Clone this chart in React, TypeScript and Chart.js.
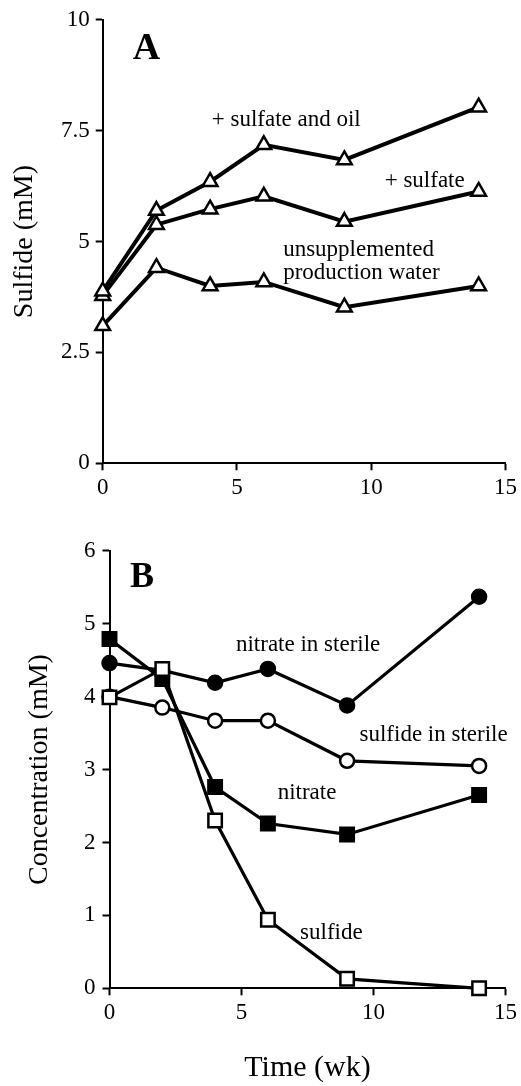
import React, { useEffect, useRef } from "react";
import { Chart, registerables } from "chart.js";

Chart.register(...registerables);

const FONT = '"Liberation Serif", "Times New Roman", serif';

// ---- Panel A data ----
const weeks = [0, 2, 4, 6, 9, 14];
const sulfateAndOil = [3.88, 5.7, 6.35, 7.18, 6.84, 8.03];
const sulfateOnly = [3.78, 5.38, 5.73, 6.02, 5.45, 6.13];
const unsupplemented = [3.1, 4.41, 4.0, 4.09, 3.52, 4.0];

const labelsA = ["+ sulfate and oil", "+ sulfate", "unsupplemented", "production water"];
const labelXA = [4.06, 10.5, 6.72, 6.72];
const labelYA = [7.6, 6.23, 4.68, 4.16];

// ---- Panel B data ----
const sulfide = [3.99, 4.38, 2.3, 0.94, 0.13, 0.0];
const nitrate = [4.79, 4.24, 2.76, 2.26, 2.11, 2.65];
const sulfideSterile = [4.0, 3.85, 3.67, 3.67, 3.12, 3.05];
const nitrateSterile = [4.46, 4.36, 4.19, 4.38, 3.88, 5.37];

const labelsB = ["nitrate in sterile", "sulfide in sterile", "nitrate", "sulfide"];
const labelXB = [4.79, 9.47, 6.37, 7.22];
const labelYB = [4.62, 3.39, 2.59, 0.68];

const toPts = (xs: number[], ys: number[]) => xs.map((x, i) => ({ x, y: ys[i] }));

function annotationPlugin(
  texts: string[],
  xs: number[],
  ys: number[],
  letter: string,
  lx: number,
  ly: number,
  letterSize: number
) {
  return {
    id: "annot" + letter,
    afterDatasetsDraw(chart: any) {
      const { ctx } = chart;
      const xs_ = chart.scales.x;
      const ys_ = chart.scales.y;
      ctx.save();
      ctx.fillStyle = "#000";
      ctx.textBaseline = "alphabetic";
      ctx.textAlign = "left";
      ctx.font = `23px ${FONT}`;
      texts.forEach((t, i) => {
        ctx.fillText(t, xs_.getPixelForValue(xs[i]), ys_.getPixelForValue(ys[i]));
      });
      ctx.textAlign = "center";
      ctx.font = `bold ${letterSize}px ${FONT}`;
      ctx.fillText(letter, xs_.getPixelForValue(lx), ys_.getPixelForValue(ly));
      ctx.restore();
    },
  };
}

interface PanelCfg {
  datasets: any[];
  yMax: number;
  yStep: number;
  yTitle: string;
  yTitlePad: number;
  xTitle?: string;
  yWidth: number;
  xHeight: number;
  padTop: number;
  padRight: number;
  yTickPad: number;
  plugin: any;
}

function buildChart(canvas: HTMLCanvasElement, c: PanelCfg) {
  return new Chart(canvas, {
    type: "line",
    data: { datasets: c.datasets },
    options: {
      responsive: false,
      maintainAspectRatio: false,
      animation: false,
      layout: { padding: { top: c.padTop, right: c.padRight, left: 0, bottom: 0 } },
      plugins: { legend: { display: false }, tooltip: { enabled: false } },
      elements: { line: { tension: 0 } },
      scales: {
        x: {
          type: "linear",
          min: 0,
          max: 15,
          ticks: { stepSize: 5, color: "#000", padding: 4, font: { family: FONT, size: 23 } },
          grid: { drawOnChartArea: false, drawTicks: true, tickLength: 7, tickColor: "#000", tickWidth: 2 },
          border: { display: true, color: "#000", width: 2 },
          title: c.xTitle
            ? { display: true, text: c.xTitle, color: "#000", font: { family: FONT, size: 30 }, padding: { top: 0, bottom: 0 } }
            : { display: false },
          afterFit: (s: any) => {
            s.height = c.xHeight;
          },
        },
        y: {
          type: "linear",
          min: 0,
          max: c.yMax,
          ticks: { stepSize: c.yStep, color: "#000", padding: c.yTickPad, font: { family: FONT, size: 23 } },
          grid: { drawOnChartArea: false, drawTicks: true, tickLength: 7, tickColor: "#000", tickWidth: 2 },
          border: { display: true, color: "#000", width: 2 },
          title: {
            display: true,
            text: c.yTitle,
            color: "#000",
            font: { family: FONT, size: 28 },
            padding: { top: c.yTitlePad, bottom: 0 },
          },
          afterFit: (s: any) => {
            s.width = c.yWidth;
          },
        },
      },
    } as any,
    plugins: [c.plugin],
  });
}

const lineDs = (data: any[], style: string, filled: boolean, radius: number, width: number) => ({
  data,
  borderColor: "#000",
  borderWidth: width,
  pointStyle: style,
  pointRadius: radius,
  pointBorderWidth: 2.5,
  pointBorderColor: "#000",
  pointBackgroundColor: filled ? "#000" : "#fff",
  clip: false,
  fill: false,
});

export default function App() {
  const refA = useRef<HTMLCanvasElement>(null);
  const refB = useRef<HTMLCanvasElement>(null);

  useEffect(() => {
    const chartA = buildChart(refA.current!, {
      datasets: [
        lineDs(toPts(weeks, sulfateAndOil), "triangle", false, 8.5, 4),
        lineDs(toPts(weeks, sulfateOnly), "triangle", false, 8.5, 4),
        lineDs(toPts(weeks, unsupplemented), "triangle", false, 8.5, 4),
      ],
      yMax: 10,
      yStep: 2.5,
      yTitle: "Sulfide (mM)",
      yTitlePad: 8,
      yWidth: 102.7,
      xHeight: 36.7,
      padTop: 15,
      padRight: 13.7,
      yTickPad: 6,
      plugin: annotationPlugin(labelsA, labelXA, labelYA, "A", 1.63, 9.11, 38),
    });
    const chartB = buildChart(refB.current!, {
      datasets: [
        lineDs(toPts(weeks, sulfide), "rect", false, 9.5, 3.2),
        lineDs(toPts(weeks, nitrate), "rect", true, 9.5, 3.2),
        lineDs(toPts(weeks, sulfideSterile), "circle", false, 7, 3.2),
        lineDs(toPts(weeks, nitrateSterile), "circle", true, 7, 3.2),
      ],
      yMax: 6,
      yStep: 1,
      yTitle: "Concentration (mM)",
      yTitlePad: 23,
      xTitle: "Time (wk)",
      yWidth: 109.5,
      xHeight: 97.7,
      padTop: 17.3,
      padRight: 12,
      yTickPad: 7,
      plugin: annotationPlugin(labelsB, labelXB, labelYB, "B", 1.23, 5.51, 36),
    });
    return () => {
      chartA.destroy();
      chartB.destroy();
    };
  }, []);

  return (
    <div style={{ position: "absolute", left: 0, top: 0, width: 521, height: 1086, background: "#fff" }}>
      <canvas ref={refA} width={521} height={500} style={{ position: "absolute", left: 0, top: 0, width: 521, height: 500 }} />
      <canvas ref={refB} width={521} height={556} style={{ position: "absolute", left: 0, top: 530, width: 521, height: 556 }} />
    </div>
  );
}
